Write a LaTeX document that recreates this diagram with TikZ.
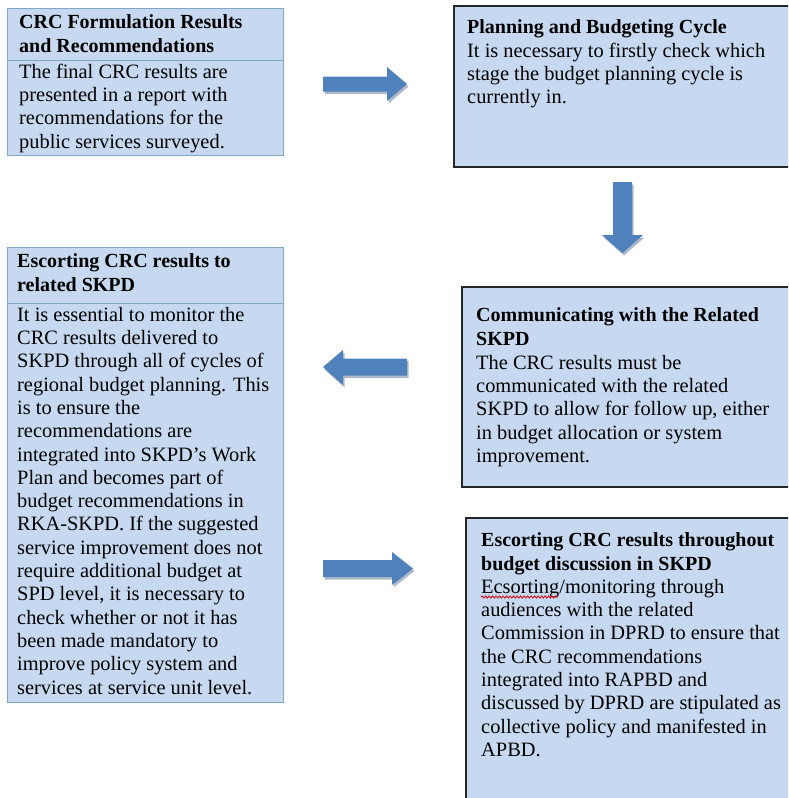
\documentclass[tikz,border=0pt]{standalone}
\usepackage{fontspec}
\setmainfont{Liberation Serif}
\usetikzlibrary{decorations.pathmorphing}

\definecolor{cellfill}{RGB}{198,217,241}
\definecolor{cellrule}{RGB}{128,168,196}
\definecolor{arrowblue}{RGB}{79,129,189}
\definecolor{arrowshade}{RGB}{175,184,198}

% fixed-height opener so the first baseline sits 16pt below the node top
\newcommand{\firstrow}{\rule{0pt}{16pt}}

\tikzset{
  tablecell/.style={fill=cellfill, draw=cellrule, line width=1pt},
  framecell/.style={fill=cellfill, draw=black!85, line width=1.4pt},
  celltext/.style={anchor=north west, align=left, inner sep=0pt, yshift=16pt,
                   font=\fontsize{20.4}{23.3}\selectfont},
  headtext/.style={anchor=north west, align=left, inner sep=0pt, yshift=16pt,
                   font=\fontsize{20}{24}\selectfont\bfseries},
  blockarrow/.style={fill=arrowblue},
  arrowshadow/.style={fill=arrowshade},
}

\begin{document}
\begin{tikzpicture}[x=1pt,y=-1pt]
\useasboundingbox (0,0) rectangle (788,798);
\clip (0,0) rectangle (788,798);

% ---- left column: two-row table cells ----
\draw[tablecell] (7,8) rectangle (283,155);
\draw[cellrule, line width=1pt] (7,60) -- (283,60);
\node[headtext] (h1) at (19,28) {\firstrow CRC Formulation Results\\and Recommendations};
\node[celltext] (t1) at (19,78) {\firstrow The final CRC results are\\presented in a report with\\recommendations for the\\public services surveyed.};

\draw[tablecell] (7,247) rectangle (283,702);
\draw[cellrule, line width=1pt] (7,303) -- (283,303);
\node[headtext] (h5) at (17,267) {\firstrow Escorting CRC results to\\related SKPD};
\node[celltext] (t5) at (17,321) {\firstrow It is essential to monitor the\\CRC results delivered to\\SKPD through all of cycles of\\regional budget planning. This\\is to ensure the\\recommendations are\\integrated into SKPD's Work\\Plan and becomes part of\\budget recommendations in\\RKA-SKPD. If the suggested\\service improvement does not\\require additional budget at\\SPD level, it is necessary to\\check whether or not it has\\been made mandatory to\\improve policy system and\\services at service unit level.};

% ---- right column: framed text boxes ----
\draw[framecell] (454,6) rectangle (800,167);
\node[headtext] (h2) at (467,33) {\firstrow Planning and Budgeting Cycle};
\node[celltext] (t2) at (467,57) {\firstrow It is necessary to firstly check which\\stage the budget planning cycle is\\currently in.};

\draw[framecell] (462,287) rectangle (800,487);
\node[headtext] (h3) at (476,321) {\firstrow Communicating with the Related\\SKPD};
\node[celltext] (t3) at (476,369) {\firstrow The CRC results must be\\communicated with the related\\SKPD to allow for follow up, either\\in budget allocation or system\\improvement.};

\draw[framecell] (466,518) rectangle (800,810);
\node[headtext] (h4) at (481,546) {\firstrow Escorting CRC results throughout\\budget discussion in SKPD};
\node[celltext] (t4) at (481,593) {\firstrow Ecsorting/monitoring through\\audiences with the related\\Commission in DPRD to ensure that\\the CRC recommendations\\integrated into RAPBD and\\discussed by DPRD are stipulated as\\collective policy and manifested in\\APBD.};
\draw[red!85!black, line width=0.8pt, decorate,
      decoration={snake, amplitude=1.1pt, segment length=3.5pt}]
  (481,597) -- (558,597);

% ---- block arrows (with a soft drop shade) ----
% right arrow, top row
\fill[arrowshadow, shift={(1.5,2.5)}]
  (323,76.5) -- (387,76.5) -- (387,67) -- (407,84) -- (387,101) -- (387,91.5) -- (323,91.5) -- cycle;
\fill[blockarrow]
  (323,76.5) -- (387,76.5) -- (387,67) -- (407,84) -- (387,101) -- (387,91.5) -- (323,91.5) -- cycle;

% down arrow, right column
\fill[arrowshadow, shift={(1.5,2.5)}]
  (613,182) -- (632,182) -- (632,235) -- (643,235) -- (622.5,253) -- (602,235) -- (613,235) -- cycle;
\fill[blockarrow]
  (613,182) -- (632,182) -- (632,235) -- (643,235) -- (622.5,253) -- (602,235) -- (613,235) -- cycle;

% left arrow, middle row
\fill[arrowshadow, shift={(1.5,2.5)}]
  (407,358.5) -- (343,358.5) -- (343,350) -- (323,367) -- (343,385) -- (343,375.5) -- (407,375.5) -- cycle;
\fill[blockarrow]
  (407,358.5) -- (343,358.5) -- (343,350) -- (323,367) -- (343,385) -- (343,375.5) -- (407,375.5) -- cycle;

% right arrow, lower row
\fill[arrowshadow, shift={(1.5,2.5)}]
  (323,560) -- (392,560) -- (392,552) -- (413,568.5) -- (392,585) -- (392,577) -- (323,577) -- cycle;
\fill[blockarrow]
  (323,560) -- (392,560) -- (392,552) -- (413,568.5) -- (392,585) -- (392,577) -- (323,577) -- cycle;
\end{tikzpicture}
\end{document}
